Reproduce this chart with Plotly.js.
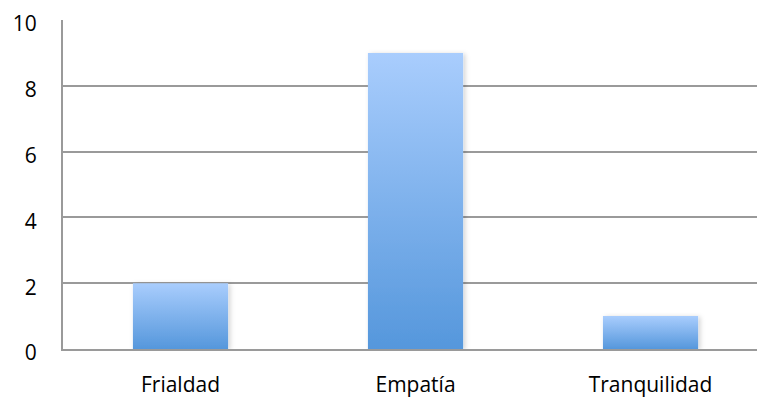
<!DOCTYPE html>
<html>
<head>
<meta charset="utf-8">
<script src="https://cdn.plot.ly/plotly-3.0.1.min.js"></script>
<style>html,body{margin:0;padding:0;background:#fff;}#chart{width:757px;height:400px;}</style>
</head>
<body>
<div id="chart"></div>
<script>
const categories = ["Frialdad", "Empatía", "Tranquilidad"];
const values = [2, 9, 1];
const yTicks = [0, 2, 4, 6, 8, 10];

const trace = {
  type: "bar",
  x: categories,
  y: values,
  width: 0.405,
  marker: { color: "#7fb0ee", line: { width: 0 } },
  hoverinfo: "x+y"
};

const layout = {
  width: 757,
  height: 400,
  margin: { l: 63, r: 0, t: 20, b: 51 },
  paper_bgcolor: "#ffffff",
  plot_bgcolor: "#ffffff",
  showlegend: false,
  font: { family: "Open Sans, sans-serif", size: 21, color: "#000" },
  xaxis: {
    type: "category",
    range: [-0.5, 2.453],
    showgrid: false,
    showline: true,
    linecolor: "#9a9a9a",
    linewidth: 2,
    ticks: "",
    ticklabelstandoff: 16,
    tickfont: { family: "Open Sans, sans-serif", size: 21, color: "#000" },
    zeroline: false,
    fixedrange: true
  },
  yaxis: {
    range: [0, 10],
    tickvals: yTicks,
    ticktext: yTicks.map(String),
    showgrid: true,
    gridcolor: "#9a9a9a",
    gridwidth: 2,
    showline: true,
    linecolor: "#9a9a9a",
    linewidth: 2,
    ticks: "",
    ticklabelstandoff: 20,
    ticklabelshift: 4,
    tickfont: { family: "Open Sans, sans-serif", size: 21, color: "#000" },
    zeroline: false,
    fixedrange: true
  }
};

Plotly.newPlot("chart", [trace], layout, { displayModeBar: false, staticPlot: true }).then(function (gd) {
  const svg = gd.querySelector("svg.main-svg");
  const ns = "http://www.w3.org/2000/svg";
  let defs = svg.querySelector("defs");
  if (!defs) { defs = document.createElementNS(ns, "defs"); svg.insertBefore(defs, svg.firstChild); }
  const grad = document.createElementNS(ns, "linearGradient");
  grad.setAttribute("id", "barGrad");
  grad.setAttribute("x1", "0"); grad.setAttribute("y1", "0");
  grad.setAttribute("x2", "0"); grad.setAttribute("y2", "1");
  [["0", "#a9cdfd"], ["1", "#5597dc"]].forEach(function (s) {
    const st = document.createElementNS(ns, "stop");
    st.setAttribute("offset", s[0]);
    st.setAttribute("stop-color", s[1]);
    grad.appendChild(st);
  });
  defs.appendChild(grad);
  const filt = document.createElementNS(ns, "filter");
  filt.setAttribute("id", "barShadow");
  filt.setAttribute("x", "-20%"); filt.setAttribute("y", "-20%");
  filt.setAttribute("width", "140%"); filt.setAttribute("height", "140%");
  const sh = document.createElementNS(ns, "feDropShadow");
  sh.setAttribute("dx", "2"); sh.setAttribute("dy", "1");
  sh.setAttribute("stdDeviation", "2.5");
  sh.setAttribute("flood-color", "#000"); sh.setAttribute("flood-opacity", "0.18");
  filt.appendChild(sh);
  defs.appendChild(filt);
  gd.querySelectorAll(".bars .point path").forEach(function (p) {
    p.style.fill = "url(#barGrad)";
    p.style.fillOpacity = "1";
    p.setAttribute("filter", "url(#barShadow)");
  });
});
</script>
</body>
</html>
